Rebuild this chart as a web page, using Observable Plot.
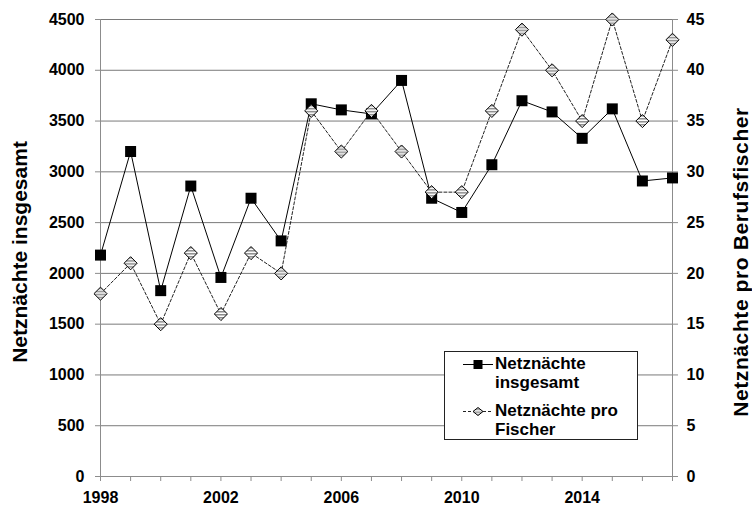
<!DOCTYPE html>
<html><head><meta charset="utf-8">
<script src="https://cdn.jsdelivr.net/npm/d3@7"></script>
<script src="https://cdn.jsdelivr.net/npm/@observablehq/plot@0.6"></script>
<style>
body{margin:0;background:#fff;}
#chart svg text{font-family:"Liberation Sans",Arial,sans-serif;font-weight:bold;}
</style></head><body><div id="chart"></div>
<script>
const years = [1998,1999,2000,2001,2002,2003,2004,2005,2006,2007,2008,2009,2010,2011,2012,2013,2014,2015,2016,2017];
const total = [2180,3200,1830,2860,1960,2740,2320,3670,3610,3570,3900,2740,2600,3070,3700,3590,3330,3620,2910,2940];
const perFisher = [18,21,15,22,16,22,20,36,32,36,32,28,28,36,44,40,35,45,35,43];
const leftTicks = [0,500,1000,1500,2000,2500,3000,3500,4000,4500];
const rightTicks = [0,5,10,15,20,25,30,35,40,45];
const xLabelYears = [1998,2002,2006,2010,2014];
const seriesNames = [["Netznächte","insgesamt"],["Netznächte pro","Fischer"]];
const axisTitles = ["Netznächte insgesamt","Netznächte pro Berufsfischer"];

const RATIO = 100; // right axis (per fisher) mapped onto left axis
const data = years.map((y,i)=>({year:y,total:total[i],per:perFisher[i]*RATIO}));
const font = '"Liberation Sans",Arial,sans-serif';

const plot = Plot.plot({
  width:752, height:507,
  marginLeft:100, marginRight:80, marginTop:19, marginBottom:31,
  x:{domain:[1998,2017]},
  y:{domain:[0,4500]},
  style:{fontFamily:font, fontSize:"16px", color:"#000", background:"#fff", overflow:"visible"},
  marks:[
    Plot.ruleY(leftTicks.filter(d=>d>0), {stroke:"#7a7a7a", strokeWidth:1}),
    Plot.ruleX([1998,2017], {stroke:"#8c8c8c"}),
    Plot.ruleY([0], {stroke:"#8c8c8c"}),
    Plot.axisY({ticks:leftTicks, tickFormat:d=>String(d), tickSize:5, tickPadding:11, stroke:"#8c8c8c", fill:"#000", label:null, fontSize:16, fontWeight:"bold"}),
    Plot.axisY({anchor:"right", ticks:rightTicks.map(d=>d*RATIO), tickFormat:d=>String(d/RATIO), tickSize:5, tickPadding:9, stroke:"#8c8c8c", fill:"#000", label:null, fontSize:16, fontWeight:"bold"}),
    Plot.axisX({ticks:years, tickFormat:()=>"", tickSize:5, stroke:"#8c8c8c", label:null}),
    Plot.axisX({ticks:xLabelYears, tickFormat:d=>String(d), tickSize:0, tickPadding:15, fill:"#000", label:null, fontSize:16, fontWeight:"bold"}),
    Plot.text([axisTitles[0]], {frameAnchor:"left", dx:-80, dy:4, rotate:-90, textAnchor:"middle", lineAnchor:"middle", fontSize:21, fontWeight:"bold", fill:"#000"}),
    Plot.text([axisTitles[1]], {frameAnchor:"right", dx:69, dy:14, rotate:-90, textAnchor:"middle", lineAnchor:"middle", fontSize:21, fontWeight:"bold", fill:"#000"}),
    Plot.line(data, {x:"year", y:"total", stroke:"#000", strokeWidth:1}),
    Plot.dot(data, {x:"year", y:"total", symbol:"square", r:6.2, fill:"#000", stroke:"none"}),
    Plot.line(data, {x:"year", y:"per", stroke:"#222", strokeWidth:1, strokeDasharray:"3,2"}),
    Plot.dot(data, {x:"year", y:"per", symbol:"diamond2", r:5.9, fill:"url(#stripes)", stroke:"#000", strokeWidth:1})
  ]
});

const svg = d3.select(plot);
svg.selectAll("text").filter(function(){ return this.textContent === axisTitles[1]; }).style("letter-spacing","0.6px");
const defs = svg.insert("defs", ":first-child");
const pat = defs.append("pattern").attr("id","stripes").attr("patternUnits","userSpaceOnUse").attr("width",4).attr("height",3);
pat.append("rect").attr("width",4).attr("height",3).attr("fill","#fff");
pat.append("rect").attr("width",4).attr("height",1.5).attr("fill","#8a8a8a");

// legend
const lg = svg.append("g").attr("font-family", font).attr("font-weight","bold").attr("font-size",17).attr("text-anchor","start");
lg.append("rect").attr("x",444.5).attr("y",351.5).attr("width",193).attr("height",88).attr("fill","#fff").attr("stroke","#222");
lg.append("line").attr("x1",463).attr("x2",493).attr("y1",364.5).attr("y2",364.5).attr("stroke","#000");
lg.append("path").attr("d",d3.symbol(d3.symbolSquare, 81)()).attr("transform","translate(478,364.5)").attr("fill","#000");
lg.append("text").attr("x",495).attr("y",369).text(seriesNames[0][0]);
lg.append("text").attr("x",495).attr("y",388).text(seriesNames[0][1]);
lg.append("line").attr("x1",463).attr("x2",493).attr("y1",411.5).attr("y2",411.5).attr("stroke","#222").attr("stroke-dasharray","3,2");
lg.append("path").attr("d","M-5,0L0,-4L5,0L0,4Z").attr("transform","translate(478,411.5)").attr("fill","url(#stripes)").attr("stroke","#000");
lg.append("text").attr("x",495).attr("y",416).text(seriesNames[1][0]);
lg.append("text").attr("x",495).attr("y",435).text(seriesNames[1][1]);

document.getElementById("chart").appendChild(plot);
</script></body></html>
